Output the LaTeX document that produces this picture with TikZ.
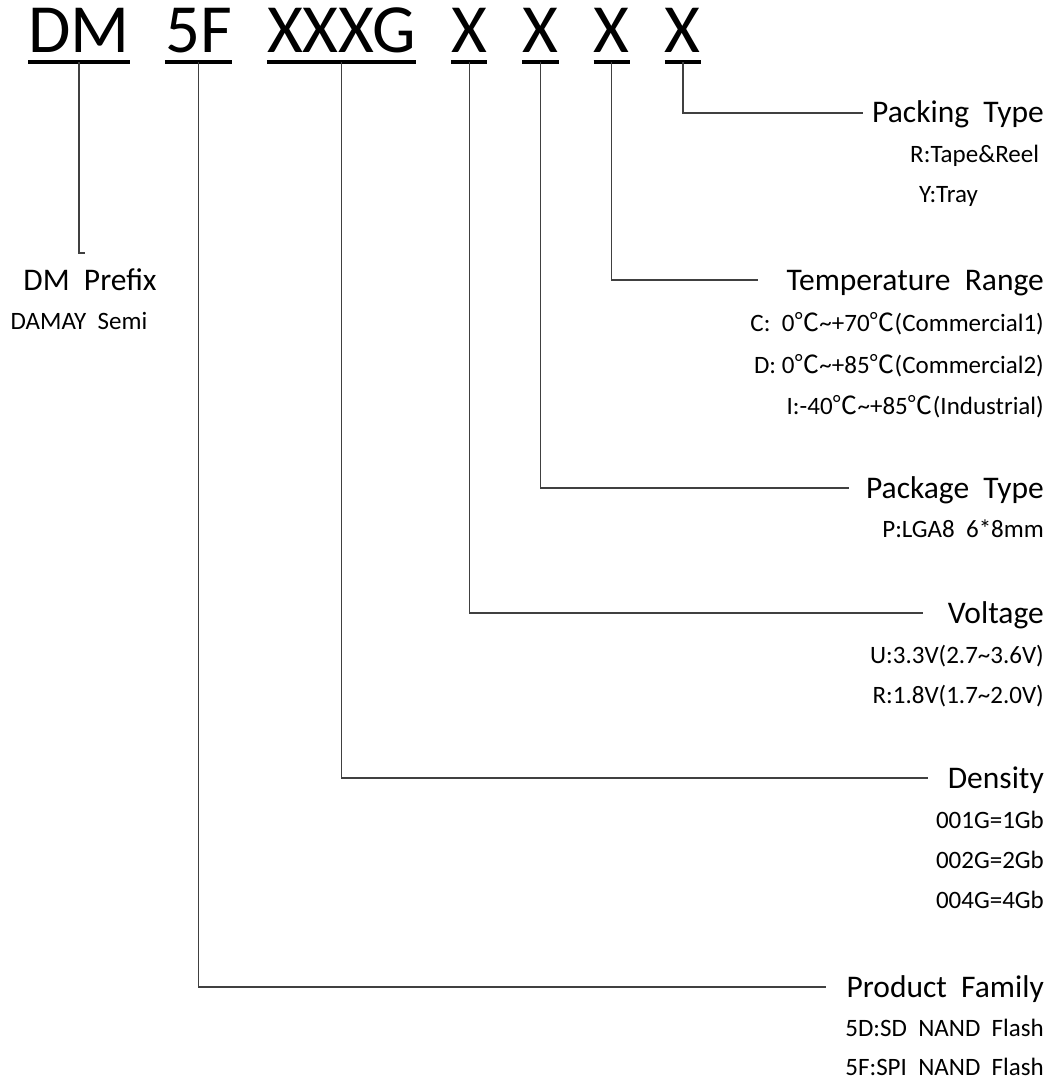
\documentclass[tikz,border=0pt]{standalone}
\usepackage{fontspec}
\setmainfont{Carlito}
\newfontfamily\cjk{Noto Sans CJK SC}
\usetikzlibrary{positioning}
\newcommand\degc{{\cjk ℃}}
\newcommand\tld{\textasciitilde}

\begin{document}
\begin{tikzpicture}[
    x=1pt, y=-1pt,
    node distance=35pt,
    partno/.style={inner sep=0pt, font=\fontsize{69}{69}\selectfont},
    heading/.style={inner sep=0pt, anchor=base east, font=\fontsize{31.5}{36}\selectfont},
    detail/.style={inner sep=0pt, anchor=base east, font=\fontsize{25}{30}\selectfont},
    uline/.style={line width=3.5pt},
    lead/.style={line width=1.3pt, black!75}
]
    \useasboundingbox (0,0) rectangle (1057,1086);

    % part number
    \node[partno, anchor=base west] (dm) at (28,53) {DM};
    \node[partno, base right=of dm] (fam) {5F};
    \node[partno, base right=of fam] (dens) {XXXG};
    \node[partno, base right=of dens] (volt) {X};
    \node[partno, base right=of volt] (pkg) {X};
    \node[partno, base right=of pkg] (temp) {X};
    \node[partno, base right=of temp] (pack) {X};
    \foreach \n in {dm,fam,dens,volt,pkg,temp,pack}
        \draw[uline] ([yshift=-9pt]\n.base west) -- ([yshift=-9pt]\n.base east);

    % field names
    \node[heading] (packh) at (1044,123) {Packing~~Type};
    \node[heading] (temph) at (1044,290) {Temperature~~Range};
    \node[heading] (pkgh) at (1044,498) {Package~~Type};
    \node[heading] (volth) at (1044,623) {Voltage};
    \node[heading] (densh) at (1044,788) {Density};
    \node[heading] (famh) at (1044,997) {Product~~Family};
    \node[heading, anchor=base] (dmh) at (90,290) {DM~~Prefix};

    % codes
    \node[detail, anchor=base west] (pack1) at ([xshift=38pt,yshift=-40pt]packh.base west) {R:Tape\&Reel};
    \node[detail, anchor=base west] (pack2) at ([xshift=9pt,yshift=-40pt]pack1.base west) {Y:Tray};
    \foreach \t [count=\i] in {C:~~0\degc\tld+70\degc(Commercial1), D:~0\degc\tld+85\degc(Commercial2), I:-40\degc\tld+85\degc(Industrial)}
        \node[detail] (temp\i) at ([yshift={-\i*41.5pt}]temph.base east) {\t};
    \node[detail] (pkg1) at ([yshift=-39pt]pkgh.base east) {P:LGA8~~6*8mm};
    \foreach \t [count=\i] in {U:3.3V(2.7\tld3.6V), R:1.8V(1.7\tld2.0V)}
        \node[detail] (volt\i) at ([yshift={-\i*40pt}]volth.base east) {\t};
    \foreach \t [count=\i] in {001G=1Gb, 002G=2Gb, 004G=4Gb}
        \node[detail] (dens\i) at ([yshift={-\i*40pt}]densh.base east) {\t};
    \foreach \t [count=\i] in {5D:SD~~NAND~~Flash, 5F:SPI~~NAND~~Flash}
        \node[detail] (fam\i) at ([yshift={-\i*39pt}]famh.base east) {\t};
    \node[detail, anchor=base] (dm1) at ([xshift=-11pt,yshift=-39pt]dmh.base) {DAMAY~~Semi};

    % leaders
    \coordinate (dmend) at (85,253);
    \draw[lead] ([yshift=-9pt]dm.base) |- (dmend);
    \foreach \a/\b/\g in {pack/packh/9, temp/temph/28, pkg/pkgh/17, volt/volth/25, dens/densh/20, fam/famh/20}
        \draw[lead] ([yshift=-9pt]\a.base) |- ([xshift=-\g pt,yshift=10pt]\b.base west);
\end{tikzpicture}
\end{document}
